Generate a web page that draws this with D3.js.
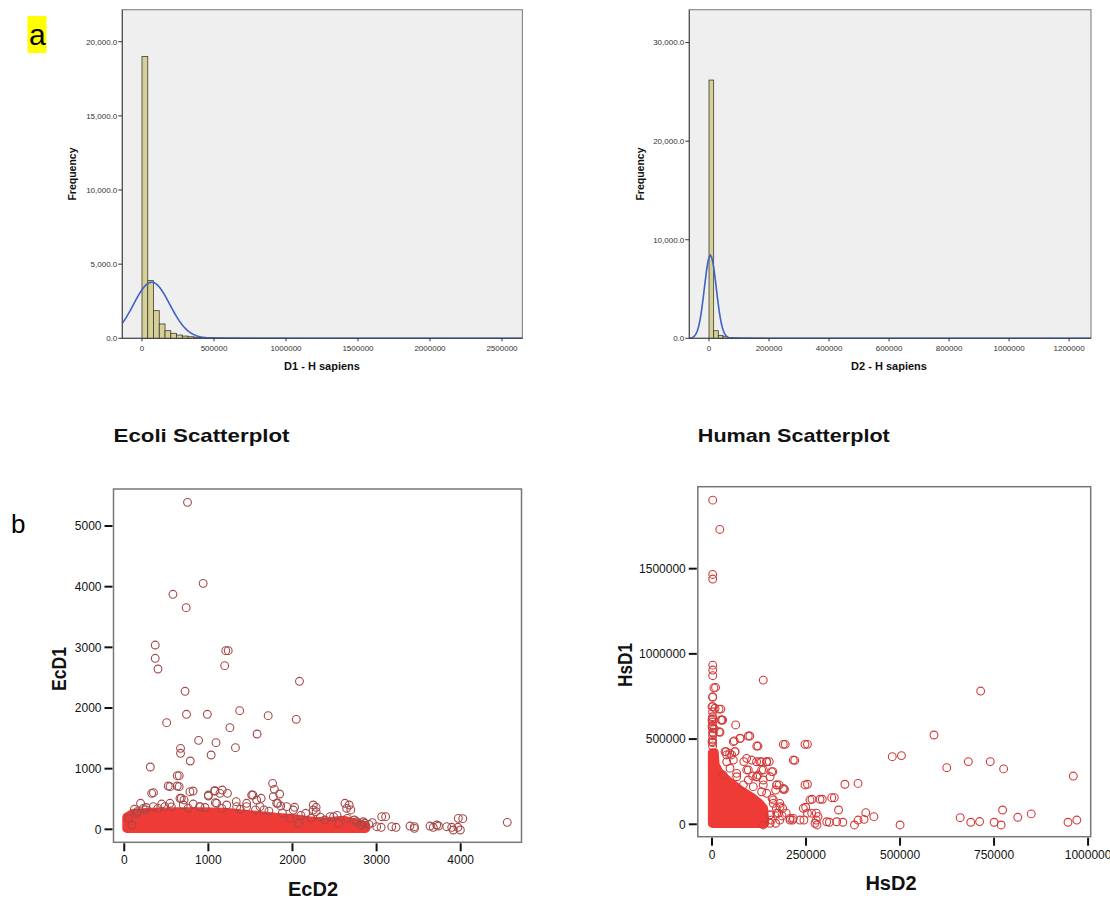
<!DOCTYPE html>
<html><head><meta charset="utf-8">
<script src="https://cdn.jsdelivr.net/npm/d3@7"></script>
<style>body{margin:0;background:#fff}svg{display:block;font-family:Arial,"Liberation Sans",sans-serif}</style>
</head><body><svg id="c" width="1110" height="900"></svg>
<script>
// ---------- DATA ----------
// Histogram a-left: D1 - H sapiens
const d1BinStart = 0, d1BinWidth = 40000;
const d1Counts = [19000, 3890, 1865, 966, 514, 338, 220, 150, 105, 75, 55, 40, 30, 22, 16, 12, 9, 7, 5, 4, 3, 3, 2, 2, 1];
const d1Normal = {mean: 67000, sd: 125600, n: 29750};
const d1XTicks = [0, 500000, 1000000, 1500000, 2000000, 2500000];
const d1YTicks = [0, 5000, 10000, 15000, 20000];
// Histogram a-right: D2 - H sapiens
const d2BinStart = 0, d2BinWidth = 15500;
const d2Counts = [26200, 770, 300, 160, 90, 50, 30, 20, 12, 8, 5, 3];
const d2Normal = {mean: 4400, sd: 19800, n: 26960};
const d2XTicks = [0, 200000, 400000, 600000, 800000, 1000000, 1200000];
const d2YTicks = [0, 10000, 20000, 30000];

// Ecoli scatter (EcD2 = x, EcD1 = y) individual points
const ecoliX = [752,938,579,736,368,368,401,1207,1236,1194,2083,723,740,988,1372,1711,2045,504,1256,1579,884,1091,1322,669,669,1033,785,310,653,545,653,347,818,1074,1165,1764,1847,1529,1628,1000,1227,678,2025,2281,2281,2674,2694,3107,3054,3231,3450,3450,3674,3736,3893,3967,3996,4025,4554,2488,2860,2818,2909,1785,1826,1860,194,153,256,483,711,897,1083,1331,1455,1661,2157,2384,2550,2653,2736,2219,2074,1971,91,50,
 630,523,630,326,781,999,1078,1138,662,1515,1574,1772,1812,147,226,345,445,543,702,820,900,1099,1218,1337,1455,1614,1931,2010,2247,2247,2624,2644,2446,2763,2842,3061,3001,3180,3397,3635,3715,3834,3912,3972,
 120,260,400,560,760,960,1160,1380,1560,1720,1880,2100,2330,2530,2950];
const ecoliY = [5390,4055,3874,3654,3038,2819,2643,2945,2945,2698,2440,2275,1896,1896,1956,1874,1813,1758,1676,1571,1467,1429,1346,1335,1253,1225,1126,1027,885,703,703,604,632,632,648,758,582,566,511,549,593,511,363,363,291,401,319,209,33,33,44,16,33,55,33,33,-11,176,115,209,99,71,82,659,429,385,429,291,319,374,484,374,440,456,374,319,264,154,99,181,154,181,99,181,71,181,
 884,714,714,593,620,565,636,593,511,565,483,538,429,264,346,373,417,429,401,417,373,429,401,373,429,373,373,318,401,318,429,346,208,125,125,208,43,43,54,54,71,43,-11,181,
 330,360,345,370,350,360,345,330,320,300,270,230,200,230,110];
// Ecoli saturated (overplotted) core: outline of point centres
const ecoliCoreX = [30,100,300,600,900,1200,1500,1800,2000,2200,2400,2600,2800,2870,2870,30];
const ecoliCoreY = [200,260,280,290,290,280,240,200,180,140,120,150,90,60,15,15];
const ecoliXTicks = [0,1000,2000,3000,4000];
const ecoliYTicks = [0,1000,2000,3000,4000,5000];

// Human scatter (HsD2 = x, HsD1 = y)
const humanX = [1880,20700,1880,1880,1900,1900,1900,9400,136300,714400,1900,1900,590300,63000,23500,28200,18800,100600,75200,59200,122200,194600,253800,479400,503800,220000,131600,152300,681500,739800,624200,775500,960700,161700,253800,353400,388200,266000,293300,325200,336500,249100,171100,186100,214300,244400,277300,279200,312000,347800,378800,388200,408900,404200,430500,500100,659900,688100,711600,750100,768900,772700,813100,848800,946600,970100,92100,47000,37600,61100,84600,105300,136300,169200,178600,192700,136300,108100,122200,159800,188000,197400,157900,169200,136300,216200,253800,277300,282000,
 1500,1500,1500,1500,1500,1500,1500,1500,1500,1500,1500,1500,5000,18600,24000,6000,39000,61000,56700,65600,96500,118600,145200,131900,158500,96500,118900,172000,189600,131900,162700,180300,172000,154300,180300,207400,
 25800,21300,56600,74500,96500,118900,189600,247300,216200,34600,52400,39100,47900,30100,65700,92300,127700,145500,136400,118900,154300,172000,189600,83200,109800,145500,247300,163000,180800,176300,154300,207400,242800,265100,260600,287200,318300,305000,331600,273900,234000,154300,0,8000,0,0,3500,0];
const humanY = [1902000,1730000,1466000,1439000,934000,905000,872000,803000,846000,782000,749000,690000,524000,583000,676000,612000,543000,518000,504000,489000,459000,469000,469000,397000,403000,375000,368000,368000,368000,368000,332000,325000,283000,309000,235000,235000,240000,147000,147000,156000,84000,100000,94000,49000,25000,25000,25000,-4000,12000,12000,-4000,25000,68000,29000,45000,-4000,39000,12000,16000,12000,-4000,84000,41000,61000,12000,25000,387000,416000,426000,426000,368000,377000,260000,201000,231000,205000,231000,283000,289000,152000,94000,65000,25000,6000,-4000,35000,65000,65000,45000,
 745000,660000,631000,620000,600000,580000,563000,540000,520000,495000,480000,460000,801000,676000,612000,560000,407000,426000,377000,299000,319000,367000,367000,319000,309000,260000,279000,231000,211000,191000,123000,123000,65000,55000,25000,25000,
 612000,540000,485000,505000,518000,459000,469000,469000,377000,426000,407000,367000,329000,289000,279000,319000,367000,367000,319000,279000,279000,231000,205000,231000,221000,182000,231000,143000,103000,65000,55000,35000,94000,65000,143000,147000,156000,15000,15000,6000,25000,6000,690000,681000,612000,573000,534000,485000];
const humanCoreX = [1000,1000,6000,8000,20000,45000,75000,105000,125000,137000,140000,140000];
const humanCoreY = [5000,420000,420000,350000,300000,250000,200000,160000,125000,95000,30000,5000];
const humanXTicks = [0,250000,500000,750000,1000000];
const humanYTicks = [0,500000,1000000,1500000];

// ---------- DRAW ----------
const svg = d3.select('#c');

function histogram(o) {
  const g = svg.append('g');
  const x = d3.scaleLinear().domain(o.xDomain).range([o.l, o.r]);
  const y = d3.scaleLinear().domain(o.yDomain).range([o.b, o.t]);
  g.append('rect').attr('x', o.l).attr('y', o.t).attr('width', o.r - o.l).attr('height', o.b - o.t)
    .attr('fill', '#efefef').attr('stroke', '#8c8c8c').attr('stroke-width', 1.2);
  g.selectAll('rect.bar').data(o.counts).join('rect').attr('class', 'bar')
    .attr('x', (d, i) => x(o.binStart + i * o.binWidth))
    .attr('width', (d, i) => x(o.binStart + (i + 1) * o.binWidth) - x(o.binStart + i * o.binWidth))
    .attr('y', d => y(d)).attr('height', d => y(0) - y(d))
    .attr('fill', '#d6cf98').attr('stroke', '#3d3d30').attr('stroke-width', 0.8);
  // normal curve
  const pts = d3.range(0, 401).map(i => o.xDomain[0] + (o.xDomain[1] - o.xDomain[0]) * i / 400);
  const nm = o.normal;
  const dens = v => nm.n * o.binWidth / (nm.sd * Math.sqrt(2 * Math.PI)) * Math.exp(-0.5 * ((v - nm.mean) / nm.sd) ** 2);
  g.append('path').attr('d', d3.line().x(v => x(v)).y(v => y(dens(v)))(pts))
    .attr('fill', 'none').attr('stroke', '#3f62c4').attr('stroke-width', 1.6);
  // axes lines
  g.append('line').attr('x1', o.l).attr('x2', o.l).attr('y1', o.t).attr('y2', o.b).attr('stroke', '#444');
  g.append('line').attr('x1', o.l).attr('x2', o.r).attr('y1', o.b).attr('y2', o.b).attr('stroke', '#444');
  const fmtY = d3.format(',.1f');
  o.yTicks.forEach(v => {
    g.append('line').attr('x1', o.l - 4).attr('x2', o.l).attr('y1', y(v)).attr('y2', y(v)).attr('stroke', '#333');
    g.append('text').attr('x', o.l - 5).attr('y', y(v)).attr('dy', '0.35em').attr('text-anchor', 'end')
      .attr('font-size', 8).attr('fill', '#333').text(fmtY(v));
  });
  o.xTicks.forEach(v => {
    g.append('line').attr('x1', x(v)).attr('x2', x(v)).attr('y1', o.b).attr('y2', o.b + 3).attr('stroke', '#333');
    g.append('text').attr('x', x(v)).attr('y', o.b + 13).attr('text-anchor', 'middle')
      .attr('font-size', 8).attr('fill', '#333').text(String(v));
  });
  g.append('text').attr('transform', `translate(${o.freqX},174) rotate(-90)`).attr('text-anchor', 'middle')
    .attr('font-size', 10.5).attr('font-weight', 'bold').attr('fill', '#111').text('Frequency');
  g.append('text').attr('x', o.labX).attr('y', 370).attr('text-anchor', 'middle')
    .attr('font-size', 11).attr('font-weight', 'bold').attr('fill', '#111').text(o.xLabel);
}

histogram({l: 122.3, r: 522.4, t: 9.7, b: 338.3, xDomain: [-136800, 2641700], yDomain: [0, 22160],
  counts: d1Counts, binStart: d1BinStart, binWidth: d1BinWidth, normal: d1Normal,
  xTicks: d1XTicks, yTicks: d1YTicks, freqX: 76, labX: 322, xLabel: 'D1 - H sapiens'});
histogram({l: 689.3, r: 1091, t: 9.7, b: 338.3, xDomain: [-65700, 1273000], yDomain: [0, 33340],
  counts: d2Counts, binStart: d2BinStart, binWidth: d2BinWidth, normal: d2Normal,
  xTicks: d2XTicks, yTicks: d2YTicks, freqX: 644, labX: 889, xLabel: 'D2 - H sapiens'});

function scatter(o) {
  const g = svg.append('g');
  const x = d3.scaleLinear().domain(o.xDomain).range([o.l, o.r]);
  const y = d3.scaleLinear().domain(o.yDomain).range([o.b, o.t]);
  g.append('rect').attr('x', o.l).attr('y', o.t).attr('width', o.r - o.l).attr('height', o.b - o.t)
    .attr('fill', '#fff').attr('stroke', '#777').attr('stroke-width', 1.5);
  const R = 3.9;
  // saturated core (union of overlapping circles)
  const core = o.coreX.map((v, i) => [x(v), y(o.coreY[i])]);
  g.append('path').attr('d', 'M' + core.join('L') + 'Z').attr('fill', '#ef3b36')
    .attr('stroke', '#ef3b36').attr('stroke-width', 2 * R + 1.2).attr('stroke-linejoin', 'round');
  g.selectAll('circle').data(o.px).join('circle')
    .attr('cx', d => x(d)).attr('cy', (d, i) => y(o.py[i])).attr('r', R)
    .attr('fill', 'none').attr('stroke', o.color).attr('stroke-width', 1.1);
  o.yTicks.forEach(v => {
    g.append('line').attr('x1', o.l - 9).attr('x2', o.l - 1).attr('y1', y(v)).attr('y2', y(v)).attr('stroke', '#111').attr('stroke-width', 2);
    g.append('text').attr('x', o.l - 12).attr('y', y(v)).attr('dy', '0.36em').attr('text-anchor', 'end')
      .attr('font-size', 12).attr('fill', '#111').text(String(v));
  });
  o.xTicks.forEach(v => {
    g.append('line').attr('x1', x(v)).attr('x2', x(v)).attr('y1', o.b + 1).attr('y2', o.b + 9).attr('stroke', '#111').attr('stroke-width', 2);
    g.append('text').attr('x', x(v)).attr('y', o.b + 22).attr('text-anchor', 'middle')
      .attr('font-size', 12).attr('fill', '#111').text(String(v));
  });
  g.append('text').attr('x', o.l).attr('y', 442).attr('font-size', 19).attr('font-weight', 'bold').attr('fill', '#111')
    .attr('textLength', o.titleLen).attr('lengthAdjust', 'spacingAndGlyphs').text(o.title);
  g.append('text').attr('x', o.xlX).attr('y', o.xlY).attr('text-anchor', 'middle').attr('font-size', 20)
    .attr('font-weight', 'bold').attr('fill', '#111').text(o.xLabel);
  g.append('text').attr('transform', `translate(${o.ylX},${o.ylY}) rotate(-90)`).attr('text-anchor', 'middle')
    .attr('font-size', 20).attr('font-weight', 'bold').attr('fill', '#111')
    .attr('textLength', 44).attr('lengthAdjust', 'spacingAndGlyphs').text(o.yLabel);
}

scatter({l: 113.5, r: 521.5, t: 489, b: 842.3, xDomain: [-128, 4723], yDomain: [-214, 5610],
  px: ecoliX, py: ecoliY, coreX: ecoliCoreX, coreY: ecoliCoreY, color: '#a54848',
  xTicks: ecoliXTicks, yTicks: ecoliYTicks, title: 'Ecoli Scatterplot', titleLen: 176,
  xLabel: 'EcD2', xlX: 313, xlY: 896, yLabel: 'EcD1', ylX: 66, ylY: 669});
scatter({l: 697.8, r: 1090.7, t: 486.7, b: 836.7, xDomain: [-37800, 1007000], yDomain: [-72800, 1981000],
  px: humanX, py: humanY, coreX: humanCoreX, coreY: humanCoreY, color: '#d33a3a',
  xTicks: humanXTicks, yTicks: humanYTicks, title: 'Human Scatterplot', titleLen: 192,
  xLabel: 'HsD2', xlX: 891, xlY: 890, yLabel: 'HsD1', ylX: 632, ylY: 665});

// panel letters
svg.append('rect').attr('x', 27.5).attr('y', 16).attr('width', 19).attr('height', 37).attr('fill', '#ffff00');
svg.append('text').attr('x', 29).attr('y', 45).attr('font-size', 30).attr('fill', '#000').text('a');
svg.append('text').attr('x', 11).attr('y', 533).attr('font-size', 26).attr('fill', '#000').text('b');
</script></body></html>
